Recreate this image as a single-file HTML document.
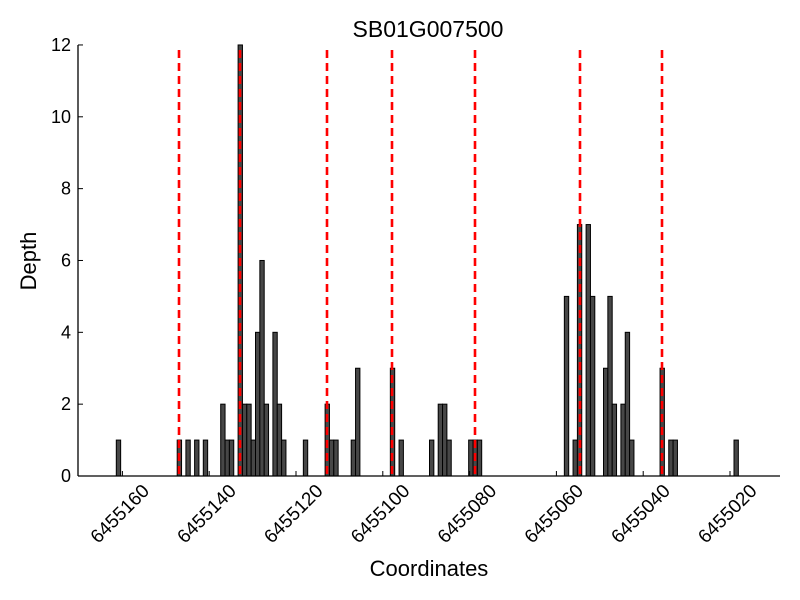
<!DOCTYPE html>
<html><head><meta charset="utf-8"><style>body{margin:0;background:#fff}svg{display:block}</style></head>
<body>
<svg id="s" width="800" height="600" xmlns="http://www.w3.org/2000/svg" font-family="Liberation Sans, sans-serif">
<rect width="800" height="600" fill="#fff"/>
<g id="bars"></g>
<g id="red"></g>
<line x1="78" y1="45" x2="78" y2="476" stroke="#000" stroke-width="1.3"/>
<line x1="78" y1="476" x2="780" y2="476" stroke="#000" stroke-width="1.3"/>
<g id="ax" font-size="18" fill="#000"></g>
<text x="428" y="37" font-size="23" text-anchor="middle">SB01G007500</text>
<text x="429" y="576" font-size="22" text-anchor="middle">Coordinates</text>
<text transform="translate(36,261) rotate(-90)" font-size="22" text-anchor="middle">Depth</text>
</svg>
<script>
var NS="http://www.w3.org/2000/svg";
function el(p,t,a,txt){var e=document.createElementNS(NS,t);for(var k in a)e.setAttribute(k,a[k]);if(txt!=null)e.textContent=txt;document.getElementById(p).appendChild(e);}
var y0=476,u=35.92,w=4.35;
var b=[[0,1],[14,1],[16,1],[18,1],[20,1],[24,2],[25,1],[26,1],[28,12],[29,2],[30,2],[31,1],[32,4],[33,6],[34,2],[36,4],[37,2],[38,1],[43,1],[48,2],[49,1],[50,1],[54,1],[55,3],[63,3],[65,1],[72,1],[74,2],[75,2],[76,1],[81,1],[82,1],[83,1],[103,5],[105,1],[106,7],[108,7],[109,5],[112,3],[113,5],[114,2],[116,2],[117,4],[118,1],[125,3],[127,1],[128,1],[142,1]];
b.forEach(function(d){var x=116.3+d[0]*w;el("bars","rect",{x:x,y:y0-d[1]*u,width:w,height:d[1]*u,fill:"#474747",stroke:"#000","stroke-width":1});});
[179,240,327,392,475,580,662].forEach(function(x){el("red","line",{x1:x,y1:50,x2:x,y2:476,stroke:"#f00","stroke-width":2.6,"stroke-dasharray":"8,5"});});
for(var i=0;i<=6;i++){var y=y0-i*2*u;el("ax","line",{x1:78,y1:y,x2:83,y2:y,stroke:"#000"});el("ax","text",{x:71,y:y+6,"text-anchor":"end"},String(i*2));}
var labs=["6455160","6455140","6455120","6455100","6455080","6455060","6455040","6455020"];
for(var i=0;i<8;i++){var x=122.4+i*86.8;el("ax","line",{x1:x,y1:476,x2:x,y2:471,stroke:"#000"});el("ax","text",{"text-anchor":"end","font-size":"19",transform:"translate("+(x+28)+",492) rotate(-45)"},labs[i]);}
</script>
</body></html>
